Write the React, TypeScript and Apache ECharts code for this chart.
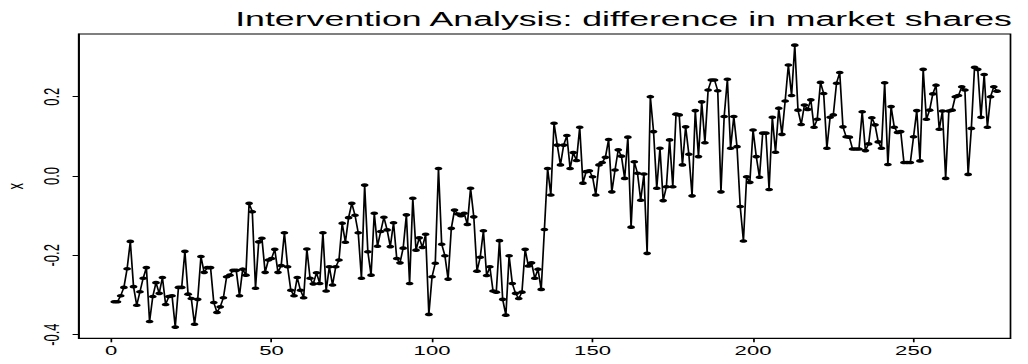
import React, { useEffect, useRef } from "react";
import * as echarts from "echarts";

const xTickValues = [0, 50, 100, 150, 200, 250];
const yTickValues = [-0.4, -0.2, 0.0, 0.2];
const titleText = "Intervention Analysis: difference in market shares";
const yName = "x";

const shares = [
  -0.317, -0.317, -0.302, -0.281, -0.234, -0.165, -0.279, -0.326, -0.292, -0.258,
  -0.231, -0.367, -0.304, -0.269, -0.296, -0.256, -0.324, -0.304, -0.302, -0.381,
  -0.281, -0.281, -0.19, -0.298, -0.309, -0.374, -0.311, -0.203, -0.243, -0.231,
  -0.231, -0.319, -0.344, -0.33, -0.307, -0.254, -0.25, -0.238, -0.238, -0.302,
  -0.235, -0.25, -0.069, -0.09, -0.283, -0.166, -0.157, -0.243, -0.212, -0.208,
  -0.185, -0.243, -0.226, -0.143, -0.229, -0.288, -0.302, -0.256, -0.288, -0.307,
  -0.184, -0.258, -0.272, -0.244, -0.271, -0.143, -0.29, -0.229, -0.275, -0.229,
  -0.212, -0.119, -0.167, -0.105, -0.069, -0.099, -0.143, -0.258, -0.023, -0.191,
  -0.25, -0.094, -0.177, -0.14, -0.104, -0.136, -0.178, -0.118, -0.208, -0.219,
  -0.182, -0.098, -0.271, -0.056, -0.187, -0.156, -0.18, -0.147, -0.349, -0.254,
  -0.22, 0.019, -0.172, -0.201, -0.26, -0.132, -0.086, -0.096, -0.1, -0.094,
  -0.122, -0.031, -0.103, -0.24, -0.205, -0.138, -0.251, -0.229, -0.29, -0.293,
  -0.163, -0.311, -0.351, -0.201, -0.271, -0.296, -0.309, -0.293, -0.185, -0.227,
  -0.219, -0.258, -0.235, -0.286, -0.135, 0.019, -0.048, 0.133, 0.078, 0.028,
  0.078, 0.102, 0.019, 0.059, 0.039, 0.123, -0.018, 0.011, 0.013, -0.002,
  -0.048, 0.028, 0.034, 0.047, 0.092, -0.04, 0.015, 0.066, 0.05, -0.006,
  0.098, -0.129, 0.036, 0.007, -0.061, 0.005, -0.195, 0.2, 0.112, -0.031,
  0.07, -0.062, -0.027, 0.091, -0.027, 0.156, 0.154, 0.028, 0.124, 0.055,
  -0.05, 0.165, 0.049, 0.187, 0.084, 0.217, 0.242, 0.242, 0.215, -0.04,
  0.15, 0.244, 0.07, 0.15, 0.074, -0.077, -0.164, -0.002, -0.016, 0.116,
  0.049, -0.003, 0.108, 0.108, -0.034, 0.148, 0.06, 0.171, 0.105, 0.189,
  0.28, 0.203, 0.33, 0.166, 0.13, 0.179, 0.168, 0.192, 0.123, 0.143,
  0.236, 0.208, 0.07, 0.148, 0.154, 0.234, 0.261, 0.124, 0.099, 0.098,
  0.068, 0.068, 0.068, 0.162, 0.064, 0.081, 0.147, 0.129, 0.086, 0.07, 0.235,
  0.029, 0.175, 0.123, 0.11, 0.112, 0.034, 0.034, 0.034, 0.099, 0.165, 0.038,
  0.269, 0.143, 0.166, 0.207, 0.229, 0.118, 0.164, -0.006, 0.164, 0.166,
  0.2, 0.203, 0.225, 0.217, 0.004, 0.12, 0.274, 0.269, 0.148, 0.256,
  0.123, 0.2, 0.225, 0.214,
];

// horizontal stretch of the whole figure (the reference is a widened plot)
const STRETCH = 1.7;
const W = 1028;
const H = 364;

export default function App() {
  const ref = useRef<HTMLDivElement>(null);
  useEffect(() => {
    document.body.style.margin = "0";
    const chart = echarts.init(ref.current!, null, { renderer: "svg" });
    const data = shares.map((v, i) => [i + 1, v]);
    const cw = W / STRETCH;
    chart.setOption({
      animation: false,
      backgroundColor: "#ffffff",
      title: {
        text: titleText,
        left: 615 / STRETCH,
        top: 3,
        textAlign: "center",
        textStyle: {
          color: "#000",
          fontSize: 21,
          fontWeight: "normal",
          fontFamily: "'Liberation Sans', Arial, sans-serif",
        },
      },
      grid: {
        show: true,
        left: 78.7 / STRETCH,
        top: 34,
        right: cw - 1010 / STRETCH,
        bottom: H - 338.3,
        containLabel: false,
        outerBoundsMode: "none",
        borderColor: "#000",
        borderWidth: 1,
        backgroundColor: "transparent",
      },
      xAxis: {
        type: "value",
        min: -10.08,
        max: 280.2,
        splitLine: { show: false },
        axisLine: { show: true, onZero: false, lineStyle: { color: "#000", width: 1 } },
        axisTick: { show: true, customValues: xTickValues, length: 4, lineStyle: { color: "#000" } },
        axisLabel: {
          customValues: xTickValues,
          color: "#000",
          fontSize: 13,
          fontFamily: "'Liberation Sans', Arial, sans-serif",
          margin: 6,
        },
      },
      yAxis: {
        type: "value",
        min: -0.4093,
        max: 0.3581,
        name: yName,
        nameLocation: "middle",
        nameRotate: 90,
        nameGap: 29,
        nameTextStyle: { color: "#000", fontSize: 13, fontFamily: "'Liberation Sans', Arial, sans-serif" },
        splitLine: { show: false },
        axisLine: { show: true, onZero: false, lineStyle: { color: "#000", width: 1 } },
        axisTick: { show: true, customValues: yTickValues, length: 3.6, lineStyle: { color: "#000" } },
        axisLabel: {
          customValues: yTickValues,
          rotate: 90,
          color: "#000",
          fontSize: 13,
          fontFamily: "'Liberation Sans', Arial, sans-serif",
          margin: 9.5,
          formatter: (v: number) => v.toFixed(1),
        },
      },
      series: [
        {
          type: "line",
          data,
          symbol: "circle",
          symbolSize: [4.6, 3.6],
          showAllSymbol: true,
          itemStyle: { color: "#000" },
          lineStyle: { color: "#000", width: 1 },
        },
      ],
    });
    return () => chart.dispose();
  }, []);
  return (
    <div style={{ width: W, height: H, overflow: "hidden", position: "relative" }}>
      <div
        ref={ref}
        style={{
          width: W / STRETCH,
          height: H,
          transform: `scaleX(${STRETCH})`,
          transformOrigin: "0 0",
        }}
      />
    </div>
  );
}
